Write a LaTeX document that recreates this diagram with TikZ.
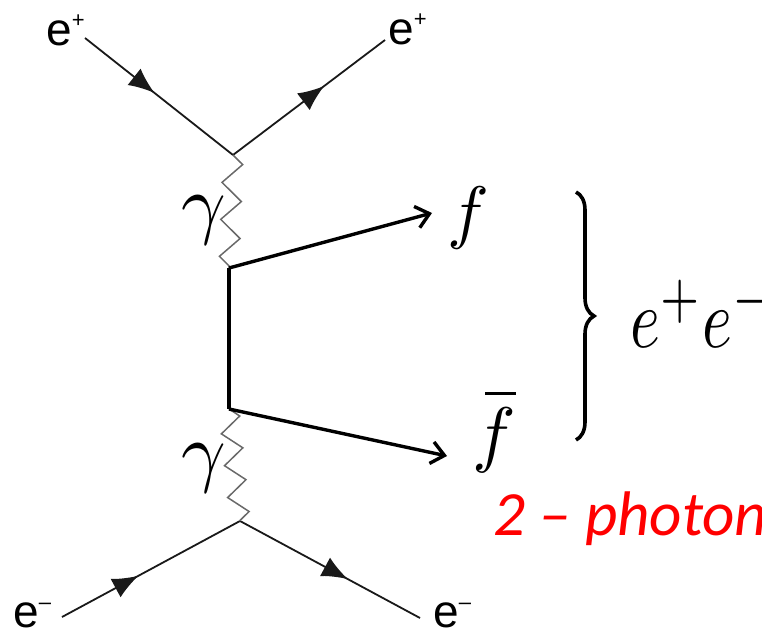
\documentclass[tikz,border=0pt]{standalone}
\usepackage{fontspec}
\newfontfamily\labelfont{Liberation Sans}
\newfontfamily\notefont{Carlito}
\usetikzlibrary{arrows.meta,decorations.pathmorphing,decorations.pathreplacing,decorations.markings}
\definecolor{linec}{RGB}{25,25,25}
\definecolor{photc}{RGB}{105,105,105}
\definecolor{notec}{RGB}{255,0,0}
\newcommand{\elab}[1]{e\raisebox{18pt}{\fontsize{22}{22}\selectfont #1}}

\begin{document}
\begin{tikzpicture}[x=1pt,y=-1pt,>=Latex,
  fermion/.style={linec,line width=1.8pt,postaction={decorate},
    decoration={markings,mark=at position #1 with {\arrow{Latex[length=26pt,width=21pt]}}}},
  fermion/.default=0.55,
  photon/.style={photc,line width=1.5pt,decorate,
    decoration={zigzag,segment length=#1,amplitude=10pt}},
  photon/.default=37pt,
  quark/.style={black,line width=3.4pt},
  elabel/.style={inner sep=0pt,anchor=base west,font=\labelfont\fontsize{46}{46}\selectfont},
  mlabel/.style={inner sep=0pt}]
\useasboundingbox (0,0) rectangle (762,639);
\clip (0,0) rectangle (762,639);
% vertices
\coordinate (vtop) at (233,155);
\coordinate (qtop) at (229,268);
\coordinate (qbot) at (229,409);
\coordinate (vbot) at (240,521);
% outer lepton ends
\coordinate (epin) at (85,38);
\coordinate (epout) at (385,40);
\coordinate (emin) at (62,617);
\coordinate (emout) at (420,618);
% labels of the leptons
\node[elabel] (ep1) at (46,46) {\elab{+}};
\node[elabel] (ep2) at (388,45) {\elab{+}};
\node[elabel] (em1) at (13,627) {\elab{–}};
\node[elabel] (em2) at (433,627) {\elab{–}};
% lepton lines
\draw[fermion=0.47] (epin) -- (vtop);
\draw[fermion=0.6] (vtop) -- (epout);
\draw[fermion=0.43] (emin) -- (vbot);
\draw[fermion=0.6] (vbot) -- (emout);
% photons
\draw[photon] (vtop) -- (qtop);
\draw[photon=32pt] (qbot) -- (vbot);
\node[mlabel] (g1) at (204,220) {\scalebox{7.8}{$\gamma$}};
\node[mlabel] (g2) at (204,468) {\scalebox{7.8}{$\gamma$}};
% fermion pair
\coordinate (ftip) at (432,213);
\coordinate (fbtip) at (447,456);
\draw[quark] (qtop) -- (qbot);
\draw[quark,-{Straight Barb[length=13pt,width=22pt]}] (qtop) -- (ftip);
\draw[quark,-{Straight Barb[length=13pt,width=22pt]}] (qbot) -- (fbtip);
\node[mlabel] (f) at (468,218) {\scalebox{7}{$f$}};
\node[mlabel] (fbar) at (494,440) {\scalebox{7.3}{$f$}};
\draw[line width=2.6pt] ([xshift=-9pt,yshift=14pt]fbar.north) -- ++(31,0);
% brace and final state
\draw[line width=3.6pt,decorate,decoration={brace,amplitude=18pt}] (576,192) -- (576,440);
\node[mlabel,anchor=base west] (ee) at (630,347) {\scalebox{6.4}[8.4]{$e^{+}e^{-}$}};
% note
\node[inner sep=0pt,anchor=base west,text=notec,font=\notefont\itshape\fontsize{63}{63}\selectfont] (note) at (493,535) {2 – photon};
\end{tikzpicture}
\end{document}
